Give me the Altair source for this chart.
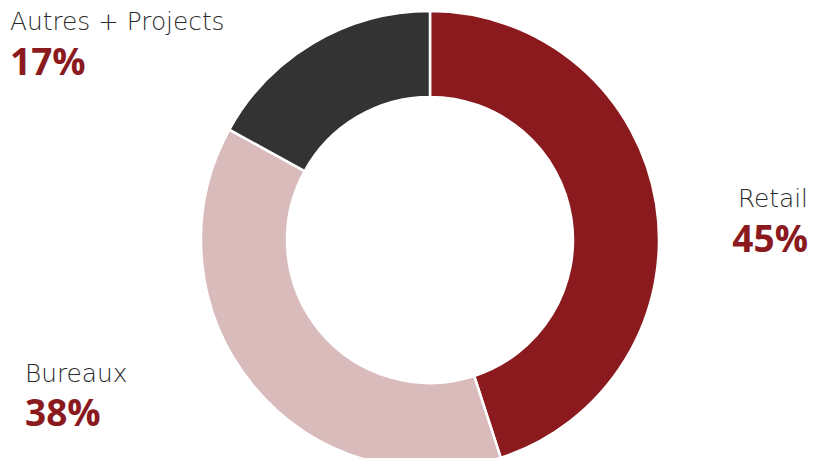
import altair as alt
import pandas as pd

categories = ["Retail", "Bureaux", "Autres + Projects"]
shares = [45, 38, 17]
colors = ["#8B1A1E", "#D9BBBB", "#333333"]

df = pd.DataFrame({
    "cat": categories,
    "share": shares,
    "idx": list(range(len(categories))),
})
df["pct"] = df["share"].astype(str) + "%"

LABEL_FONT = "DejaVu Sans"
PCT_FONT = "Open Sans"

arc = alt.Chart(df).mark_arc(
    innerRadius=143, outerRadius=229, stroke="white", strokeWidth=2.5
).encode(
    theta=alt.Theta("share:Q", stack=True),
    color=alt.Color("cat:N", scale=alt.Scale(domain=categories, range=colors), legend=None),
    order=alt.Order("idx:Q"),
    x=alt.value(422),
    y=alt.value(232),
)

# label placement (layout only): category -> (x, align, name baseline, pct baseline)
placement = {
    "Autres + Projects": (2, "left", 22, 67),
    "Retail": (800, "right", 199, 244),
    "Bureaux": (17, "left", 374, 418),
}

layers = [arc]
for cat, (x, align, y1, y2) in placement.items():
    base = alt.Chart(df).transform_filter(alt.datum.cat == cat)
    layers.append(
        base.mark_text(align=align, baseline="alphabetic", font=LABEL_FONT, fontSize=24.8,
                       fontWeight=300, color="#2a2a2a").encode(
            text="cat:N", x=alt.value(x), y=alt.value(y1))
    )
    layers.append(
        base.mark_text(align=align, baseline="alphabetic", font=PCT_FONT, fontSize=37,
                       fontWeight=700, color="#8B1A1E").encode(
            text="pct:N", x=alt.value(x), y=alt.value(y2))
    )

chart = alt.layer(*layers).properties(
    width=800, height=450, padding=0, autosize="none"
).configure_view(stroke=None)

chart.save("out.html", embed_options={"renderer": "svg", "actions": False})
